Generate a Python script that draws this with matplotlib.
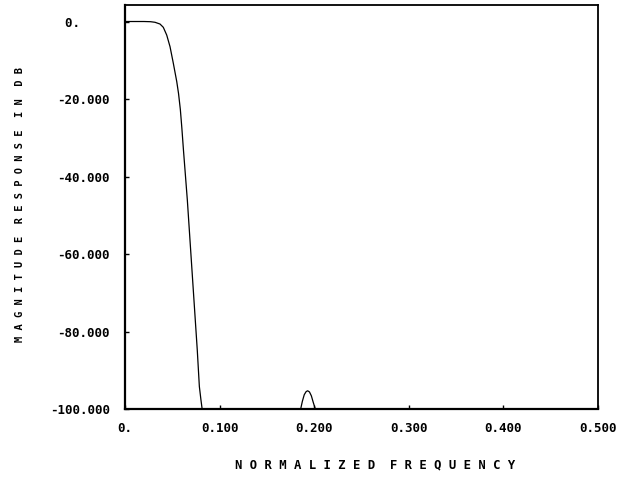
import matplotlib
matplotlib.use("Agg")
import matplotlib.pyplot as plt

# magnitude response (normalized freq, dB)
freq = [0.0, 0.020, 0.027, 0.0317, 0.0370, 0.0405, 0.0441, 0.0476, 0.0511,
        0.0547, 0.0566, 0.0585, 0.0601, 0.0618, 0.0659, 0.0694, 0.0729, 0.0764,
        0.0786, 0.0803, 0.0817,
        0.1857, 0.1875, 0.1895, 0.1915, 0.1931, 0.1950, 0.1970, 0.1990, 0.2012,
        0.5]
mag_db = [0.0, 0.0, -0.05, -0.2, -0.65, -1.5, -3.5, -6.5, -10.8,
          -15.5, -18.6, -22.7, -27.5, -33.2, -46.1, -59.0, -71.9, -84.8,
          -94.2, -97.7, -100.3,
          -100.0, -98.0, -96.3, -95.5, -95.3, -95.6, -96.6, -98.3, -100.0,
          -100.0]

xticks = [0.0, 0.1, 0.2, 0.3, 0.4, 0.5]
xlabels = ["0.", "0.100", "0.200", "0.300", "0.400", "0.500"]
yticks = [0, -20, -40, -60, -80, -100]
ylabels = ["0.    ", "-20.000", "-40.000", "-60.000", "-80.000", "-100.000"]

mono = "DejaVu Sans Mono"

fig = plt.figure(figsize=(6.2, 4.83), dpi=100)
ax = fig.add_axes([125 / 620, 74 / 483, 473 / 620, 404 / 483])

ax.plot(freq, mag_db, color="black", lw=0.9)

ax.set_xlim(0, 0.5)
ax.set_ylim(-100, 4.26)

ax.set_xticks(xticks)
ax.set_xticklabels(xlabels, family=mono, fontweight="bold", fontsize=9)
ax.set_yticks(yticks)
ax.set_yticklabels(ylabels, family=mono, fontweight="bold", fontsize=9)
ax.tick_params(direction="in", length=3, width=1)
ax.tick_params(axis="x", pad=9)
ax.tick_params(axis="y", pad=11)

for side in ["left", "bottom"]:
    ax.spines[side].set_linewidth(1.6)
for side in ["top", "right"]:
    ax.spines[side].set_linewidth(1.3)

ylab = "  ".join(" ".join(w) for w in "MAGNITUDE RESPONSE IN DB".split())
xlab = "  ".join(" ".join(w) for w in "NORMALIZED FREQUENCY".split())
fig.text(20 / 620, 1 - 205 / 483, ylab, rotation=90, ha="center", va="center",
         family=mono, fontweight="bold", fontsize=7.5)
fig.text(375 / 620, 1 - 465 / 483, xlab, ha="center", va="center",
         family=mono, fontweight="bold", fontsize=8.8)

fig.savefig("out.png", dpi=100)
